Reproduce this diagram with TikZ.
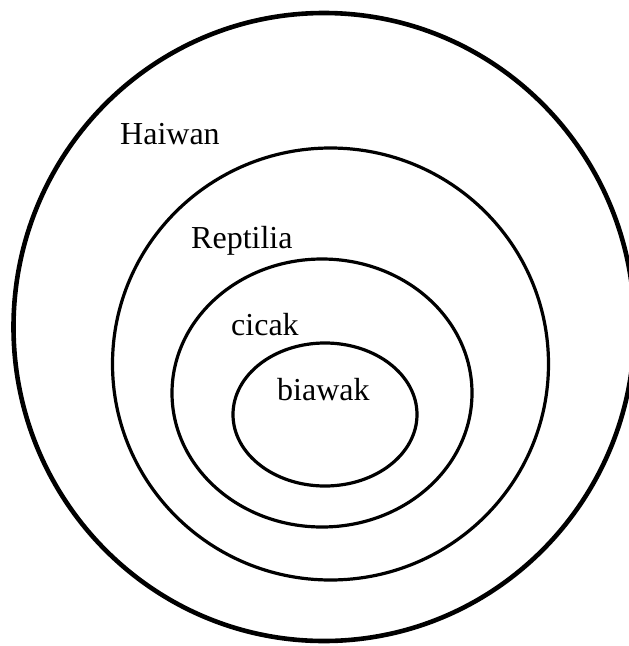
\documentclass[tikz,border=0pt]{standalone}
\usepackage{fontspec}
\setmainfont{Liberation Serif}
\begin{document}
\begin{tikzpicture}[x=1pt,y=-1pt,
  ring/.style={draw=black,line width=3.2pt},
  outerring/.style={draw=black,line width=4.6pt},
  lbl/.style={anchor=base west,inner sep=0pt,font=\fontsize{32}{38}\selectfont}]
\useasboundingbox (0,0) rectangle (629,646);
\draw[outerring] (324,327) ellipse [x radius=310.5, y radius=314];
\draw[ring] (330.5,364) ellipse [x radius=218, y radius=216];
\draw[ring] (322,393) ellipse [x radius=150, y radius=134];
\draw[ring] (325,414.5) ellipse [x radius=92, y radius=71.5];
\node[lbl] (haiwan) at (120,144) {Haiwan};
\node[lbl] (reptilia) at (191,248) {Reptilia};
\node[lbl] (cicak) at (231,335) {cicak};
\node[lbl] (biawak) at (277,400) {biawak};
\end{tikzpicture}
\end{document}
